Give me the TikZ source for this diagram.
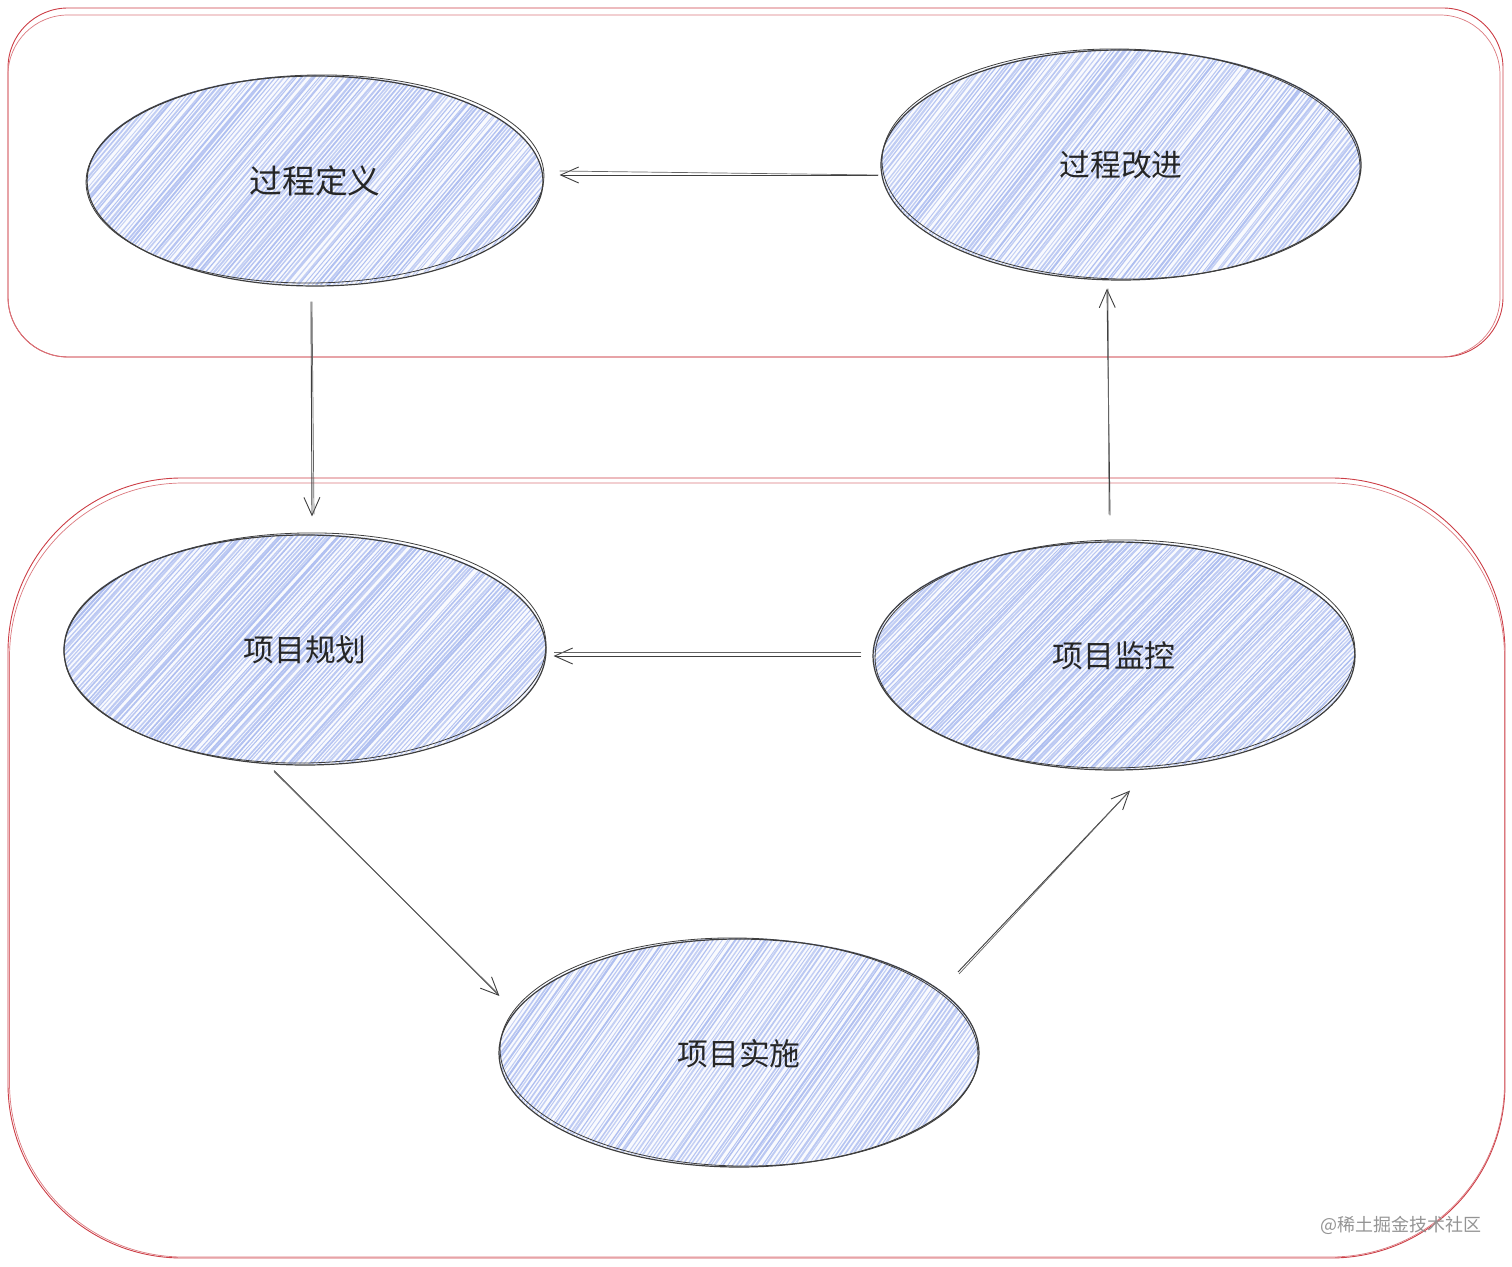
\documentclass[tikz,border=0pt]{standalone}
\usepackage{fontspec}
\setmainfont{Noto Sans CJK SC}
\usetikzlibrary{shapes.geometric,arrows.meta}
\definecolor{hatchblue}{HTML}{AEBEF0}
\definecolor{inkline}{HTML}{3E3E3E}
\definecolor{framered}{HTML}{CC3E46}
\tikzset{
  blob/.style={ellipse,draw=inkline,line width=0.6pt,inner sep=0pt,text=black!85,text depth=1pt},
  blobecho/.style={draw=inkline,line width=0.4pt},
  frame/.style={rectangle,draw=framered,line width=0.45pt,inner sep=0pt},
  frameecho/.style={draw=framered!70,line width=0.35pt},
  link/.style={draw=inkline,line width=0.45pt,-{Straight Barb[length=9pt,width=8pt,line width=0.45pt]}},
  linkecho/.style={draw=inkline!80,line width=0.35pt},
  mark text/.style={text=black!42,font=\fontsize{9}{9}\selectfont,inner sep=0pt}
}
\pgfmathsetseed{4242}
% #1 cx, #2 cy, #3 rx, #4 ry, #5 angle
\newcommand{\hatchfill}[5]{%
  \begin{scope}
    \clip (#1,#2) ellipse [x radius=#3, y radius=#4];
    \fill[hatchblue!8!white] (#1,#2) ellipse [x radius=#3, y radius=#4];
    \foreach \d in {-360,-355.8,...,360}{%
      \pgfmathsetmacro{\mixv}{int(70+rnd*30)}%
      \pgfmathsetmacro{\wid}{0.4+rnd*0.7}%
      \pgfmathsetmacro{\jit}{rnd*2-1}%
      \pgfmathsetmacro{\ang}{#5+rnd*0.6-0.3}%
      \pgfmathsetmacro{\dxv}{300*cos(\ang)}%
      \pgfmathsetmacro{\dyv}{300*sin(\ang)}%
      \draw[draw=hatchblue!\mixv!white,line width=\wid pt]
        ({#1+\d+\jit-\dxv},{#2+\dyv}) -- ({#1+\d+\jit+\dxv},{#2-\dyv});
    }
  \end{scope}%
}
\begin{document}
\begin{tikzpicture}[x=0.5pt,y=-0.5pt]
\useasboundingbox (0,0) rectangle (1512,1267);
% frames
\node[frame,rounded corners=30pt,minimum width=747.5pt,minimum height=174.5pt] (top) at (755.5,182.5) {};
\node[frame,frameecho,rounded corners=30pt,minimum width=746pt,minimum height=171pt] (topecho) at (754,186) {};
\node[frame,rounded corners=87pt,minimum width=748.5pt,minimum height=390pt] (bottom) at (756.5,868) {};
\node[frame,frameecho,rounded corners=87pt,minimum width=747.5pt,minimum height=387pt] (bottomecho) at (757,870) {};
% hatching
\hatchfill{315}{180}{228}{105}{50}
\hatchfill{1121}{164}{240}{115}{52}
\hatchfill{305}{649}{241}{115}{48}
\hatchfill{1114}{655}{241}{114}{46}
\hatchfill{739}{1052}{240}{114}{55}
% ellipses
\node[blob,minimum width=228pt,minimum height=105pt,font=\fontsize{16.4}{16.4}\selectfont] (def) at (315,181) {过程定义};
\node[blob,minimum width=240pt,minimum height=115pt,font=\fontsize{15.4}{15.4}\selectfont] (imp) at (1121,165) {过程改进};
\node[blob,minimum width=241pt,minimum height=115pt,font=\fontsize{15.4}{15.4}\selectfont] (plan) at (305,650) {项目规划};
\node[blob,minimum width=241pt,minimum height=114pt,font=\fontsize{15.4}{15.4}\selectfont] (mon) at (1114,656) {项目监控};
\node[blob,minimum width=240pt,minimum height=114pt,font=\fontsize{15.4}{15.4}\selectfont] (act) at (739,1053) {项目实施};
% sketch echoes
\draw[blobecho] (315,179) ellipse [x radius=229, y radius=104, rotate=1];
\draw[blobecho] (1121,164) ellipse [x radius=239, y radius=115, rotate=-1];
\draw[blobecho] (305,648) ellipse [x radius=241, y radius=115, rotate=1];
\draw[blobecho] (1115,654) ellipse [x radius=240, y radius=114, rotate=1];
\draw[blobecho] (739,1052) ellipse [x radius=239, y radius=114, rotate=-1];
% connectors
\draw[link] ([shift={(-2,10)}]imp.west) -- ([shift={(16,-6)}]def.east);
\draw[linkecho] ([shift={(-2,10)}]imp.west) -- ([shift={(16,-10)}]def.east);
\draw[link] ([shift={(-4,15)}]def.south) -- ([shift={(7,-18)}]plan.north);
\draw[linkecho] ([shift={(-3,15)}]def.south) -- ([shift={(9,-20)}]plan.north);
\draw[link] ([shift={(-4,-26)}]mon.north) -- ([shift={(-14,8)}]imp.south);
\draw[linkecho] ([shift={(-5,-27)}]mon.north) -- ([shift={(-13,8)}]imp.south);
\draw[link] ([shift={(-11,0)}]mon.west) -- ([shift={(7,6)}]plan.east);
\draw[linkecho] ([shift={(-11,-4)}]mon.west) -- ([shift={(7,2)}]plan.east);
\draw[link] ([shift={(-31,5)}]plan.south) -- ([shift={(1,-57)}]act.west);
\draw[linkecho] ([shift={(-31,6)}]plan.south) -- ([shift={(-1,-60)}]act.west);
\coordinate (actout) at (958,972);
\draw[link] (actout) -- ([shift={(16,20)}]mon.south);
\draw[linkecho] (959,974) -- ([shift={(15,21)}]mon.south);
% watermark
\node[mark text,anchor=west] (wm) at (1320,1225) {@稀土掘金技术社区};
\end{tikzpicture}
\end{document}
